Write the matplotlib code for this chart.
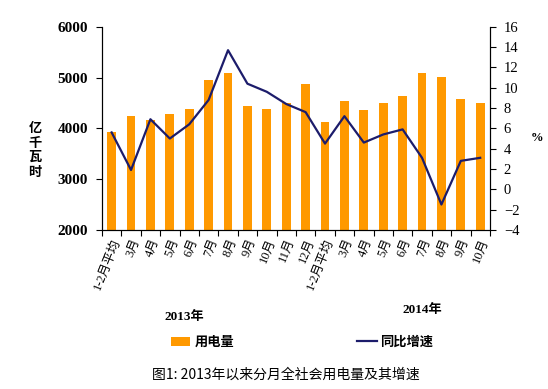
import matplotlib
matplotlib.use("Agg")
import matplotlib.pyplot as plt
from matplotlib.patches import Patch
from matplotlib.lines import Line2D

categories = ["1-2月平均", "3月", "4月", "5月", "6月", "7月", "8月", "9月", "10月", "11月", "12月",
              "1-2月平均", "3月", "4月", "5月", "6月", "7月", "8月", "9月", "10月"]
consumption = [3925, 4240, 4170, 4280, 4390, 4950, 5100, 4450, 4380, 4490, 4880,
               4120, 4540, 4370, 4500, 4640, 5090, 5010, 4580, 4500]
growth = [5.6, 1.9, 6.9, 5.0, 6.4, 8.8, 13.7, 10.4, 9.6, 8.4, 7.6,
          4.5, 7.2, 4.6, 5.4, 5.9, 3.1, -1.5, 2.8, 3.1]
left_ticks = [2000, 3000, 4000, 5000, 6000]
right_ticks = [-4, -2, 0, 2, 4, 6, 8, 10, 12, 14, 16]

SERIF = ["Liberation Serif", "Noto Sans CJK SC"]
CJK = ["Noto Sans CJK SC", "DejaVu Sans"]
ORANGE = "#FF9900"
NAVY = "#1C1C6B"

fig = plt.figure(figsize=(5.48, 3.89), dpi=100)
ax = fig.add_axes([0.186, 0.409, 0.708, 0.522])
x = list(range(len(categories)))
ax.bar(x, consumption, width=0.45, color=ORANGE, zorder=2)
ax.set_xlim(-0.5, len(categories) - 0.5)
ax.set_ylim(2000, 6000)
ax.set_yticks(left_ticks)
ax.set_yticklabels([str(v) for v in left_ticks], fontfamily=SERIF, fontweight="bold", fontsize=11)
ax.set_xticks([i - 0.5 for i in range(len(categories) + 1)], minor=False)
ax.set_xticklabels([])
ax.set_xticks(x, minor=True)
ax.set_xticklabels(categories, minor=True, rotation=68, ha="right", va="top",
                   rotation_mode="anchor", fontfamily=SERIF, fontsize=9)
ax.tick_params(axis="x", which="minor", length=0, pad=5)
ax.tick_params(axis="x", which="major", length=4, direction="out")
ax.tick_params(axis="y", length=4, direction="out", pad=6)
ax.spines["top"].set_visible(False)
for s in ax.spines.values():
    s.set_color("black")

ax2 = ax.twinx()
ax2.plot(x, growth, color=NAVY, linewidth=1.6, zorder=3)
ax2.set_ylim(-4, 16)
ax2.set_yticks(right_ticks)
ax2.set_yticklabels([str(v).replace("-", "\u2212") for v in right_ticks], fontfamily=SERIF, fontsize=10.5)
ax2.tick_params(axis="y", length=4, direction="out", pad=6)
ax2.spines["top"].set_visible(False)

fig.text(35 / 548, 1 - 150 / 389, "亿\n千\n瓦\n时", ha="center", va="center",
         fontfamily=CJK, fontweight="bold", fontsize=9.5, linespacing=1.05)
fig.text(537 / 548, 1 - 138 / 389, "%", ha="center", va="center",
         fontfamily=SERIF, fontweight="bold", fontsize=9)
fig.text(184 / 548, 1 - 317 / 389, "2013年", ha="center", va="center",
         fontfamily=SERIF, fontweight="bold", fontsize=9.5)
fig.text(422 / 548, 1 - 310 / 389, "2014年", ha="center", va="center",
         fontfamily=SERIF, fontweight="bold", fontsize=9.5)

handles = [Patch(facecolor=ORANGE, edgecolor="none", label="用电量"),
           Line2D([0], [0], color=NAVY, linewidth=1.6, label="同比增速")]
leg = fig.legend(handles=handles, loc="center", bbox_to_anchor=(302 / 548, 1 - 342 / 389),
                 ncol=2, frameon=False, columnspacing=9.3, handlelength=1.5, handletextpad=0.3,
                 prop={"family": CJK, "weight": "bold", "size": 9.5})

fig.text(286 / 548, 1 - 375 / 389, "图1: 2013年以来分月全社会用电量及其增速", ha="center", va="center",
         fontfamily=CJK, fontsize=10)

fig.savefig("out.png", dpi=100, facecolor="white")
